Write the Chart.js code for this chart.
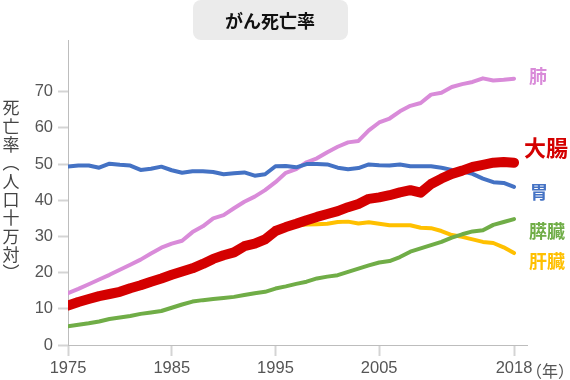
<!DOCTYPE html>
<html lang="ja">
<head>
    <meta charset="UTF-8">
    <title>がん死亡率</title>
    <script src="https://cdn.jsdelivr.net/npm/chart.js"></script>
    <style>
        body { margin: 0; background: #fff; }
        #wrap { width: 570px; height: 380px; }
    </style>
</head>
<body>
    <div id="wrap"><canvas id="cancerChart" width="570" height="380"></canvas></div>
    <script>
        // 年（1975〜2018）
        const years = [1975, 1976, 1977, 1978, 1979, 1980, 1981, 1982, 1983, 1984,
            1985, 1986, 1987, 1988, 1989, 1990, 1991, 1992, 1993, 1994,
            1995, 1996, 1997, 1998, 1999, 2000, 2001, 2002, 2003, 2004,
            2005, 2006, 2007, 2008, 2009, 2010, 2011, 2012, 2013, 2014,
            2015, 2016, 2017, 2018];
        const xTicks = [1975, 1985, 1995, 2005, 2018];
        const yTicks = [0, 10, 20, 30, 40, 50, 60, 70];

        // 死亡率（人口十万対）
        const colon = [10.9, 11.9, 12.7, 13.5, 14.1, 14.7, 15.7, 16.5, 17.5, 18.4,
            19.4, 20.3, 21.2, 22.4, 23.8, 24.8, 25.6, 27.3, 28.0, 29.2,
            31.5, 32.6, 33.5, 34.5, 35.4, 36.2, 37.0, 38.1, 39.0, 40.4,
            40.8, 41.4, 42.2, 42.8, 42.1, 44.5, 46.0, 47.3, 48.2, 49.2,
            49.8, 50.4, 50.6, 50.4];
        const lung = [14.3, 15.5, 16.8, 18.1, 19.4, 20.8, 22.2, 23.6, 25.3, 26.9,
            28.0, 28.8, 31.2, 32.8, 35.0, 35.9, 37.8, 39.6, 41.0, 42.8,
            45.0, 47.6, 48.6, 50.5, 51.6, 53.3, 54.8, 56.0, 56.4, 59.3,
            61.5, 62.6, 64.6, 66.1, 66.9, 69.2, 69.7, 71.3, 72.1, 72.7,
            73.7, 73.1, 73.3, 73.6];
        const stomach = [49.3, 49.6, 49.6, 49.0, 50.1, 49.8, 49.6, 48.4, 48.7, 49.3,
            48.3, 47.6, 48.0, 48.0, 47.8, 47.2, 47.5, 47.7, 46.8, 47.2,
            49.4, 49.5, 49.1, 50.0, 50.0, 49.9, 49.0, 48.6, 48.9, 49.9,
            49.7, 49.6, 49.9, 49.4, 49.4, 49.4, 49.0, 48.4, 48.0, 47.3,
            46.0, 45.0, 44.8, 43.7];
        const pancreas = [5.2, 5.6, 6.0, 6.5, 7.2, 7.6, 8.0, 8.6, 9.0, 9.4,
            10.3, 11.2, 12.0, 12.4, 12.7, 13.0, 13.3, 13.8, 14.3, 14.7,
            15.6, 16.2, 16.9, 17.5, 18.4, 18.9, 19.3, 20.2, 21.1, 22.0,
            22.8, 23.2, 24.3, 25.8, 26.7, 27.6, 28.5, 29.7, 30.6, 31.4,
            31.7, 33.2, 34.0, 34.8];
        const liver = [10.8, 11.8, 12.6, 13.4, 14.0, 14.6, 15.6, 16.4, 17.4, 18.3,
            19.3, 20.2, 21.1, 22.3, 23.6, 24.6, 25.5, 27.1, 27.9, 29.0,
            31.2, 32.3, 33.0, 33.3, 33.4, 33.5, 34.0, 34.1, 33.6, 33.9,
            33.5, 33.1, 33.1, 33.1, 32.4, 32.3, 31.5, 30.4, 29.9, 29.2,
            28.5, 28.2, 27.0, 25.4];

        const jp = '"Noto Sans CJK JP", sans-serif';
        const num = '"Liberation Sans", Arial, sans-serif';

        function points(values) {
            return years.map((y, i) => ({ x: y, y: values[i] }));
        }

        function line(name, values, color, width, labelFont, labelDx, labelDy) {
            return {
                label: name,
                data: points(values),
                borderColor: color,
                backgroundColor: color,
                borderWidth: width,
                borderCapStyle: 'round',
                borderJoinStyle: 'round',
                pointRadius: 0,
                tension: 0,
                endLabel: { font: labelFont, dx: labelDx, dy: labelDy }
            };
        }

        // タイトル・縦軸名・系列名を描く
        const decorations = {
            id: 'decorations',
            afterDraw(chart) {
                const c = chart.ctx;
                c.save();
                // タイトルの箱
                c.fillStyle = '#ebebeb';
                c.beginPath();
                c.roundRect(193, 0, 155, 40, 8);
                c.fill();
                c.fillStyle = '#111';
                c.font = 'bold 18px ' + jp;
                c.textAlign = 'center';
                c.textBaseline = 'middle';
                c.fillText('がん死亡率', 270, 21);

                // 縦書きの軸名
                c.fillStyle = '#444';
                c.font = '17px ' + jp;
                const chars = ['死', '亡', '率', '︵', '人', '口', '十', '万', '対', '︶'];
                chars.forEach((ch, i) => c.fillText(ch, 11, 108 + i * 18.3));

                // 年
                c.fillStyle = '#555';
                c.font = '16px ' + jp;
                c.textAlign = 'left';
                c.fillText('（年）', 526, 371);

                // 系列名
                const ys = chart.scales.y;
                chart.data.datasets.forEach(ds => {
                    const last = ds.data[ds.data.length - 1];
                    c.fillStyle = ds.borderColor;
                    c.font = ds.endLabel.font;
                    c.fillText(ds.label, 514 + ds.endLabel.dx, ys.getPixelForValue(last.y) + ds.endLabel.dy);
                });
                c.restore();
            }
        };

        new Chart(document.getElementById('cancerChart'), {
            type: 'line',
            data: {
                datasets: [
                    line('大腸', colon, '#d40000', 10, 'bold 22px ' + jp, 10, -15),
                    line('胃', stomach, '#4472c4', 4, 'bold 18px ' + jp, 16, 5),
                    line('肺', lung, '#d98bd9', 4, 'bold 18px ' + jp, 15, -3),
                    line('膵臓', pancreas, '#70ad47', 4, 'bold 18px ' + jp, 15, 12),
                    line('肝臓', liver, '#ffc000', 4, 'bold 18px ' + jp, 15, 8)
                ]
            },
            options: {
                responsive: false,
                animation: false,
                layout: { padding: { top: 40, right: 43, left: 0, bottom: 0 } },
                plugins: { legend: { display: false }, tooltip: { enabled: false } },
                scales: {
                    x: {
                        type: 'linear',
                        min: 1975,
                        max: 2019.25,
                        afterBuildTicks: s => { s.ticks = xTicks.map(v => ({ value: v })); },
                        afterFit: s => { s.height = 35; },
                        border: { color: '#bdbdbd', width: 1 },
                        grid: { drawOnChartArea: false, tickLength: 11, tickWidth: 2, tickColor: '#d4d4d4' },
                        ticks: { color: '#555', font: { family: num, size: 16.5 }, padding: 3, maxRotation: 0, callback: v => String(v) }
                    },
                    y: {
                        min: 0,
                        max: 84.3,
                        afterBuildTicks: s => { s.ticks = yTicks.map(v => ({ value: v })); },
                        afterFit: s => { s.width = 68; },
                        border: { color: '#bdbdbd', width: 1 },
                        grid: { drawOnChartArea: false, tickLength: 10, tickWidth: 2, tickColor: '#d4d4d4' },
                        ticks: { color: '#555', font: { family: num, size: 16.5 }, padding: 5 }
                    }
                }
            },
            plugins: [decorations]
        });
    </script>
</body>
</html>
